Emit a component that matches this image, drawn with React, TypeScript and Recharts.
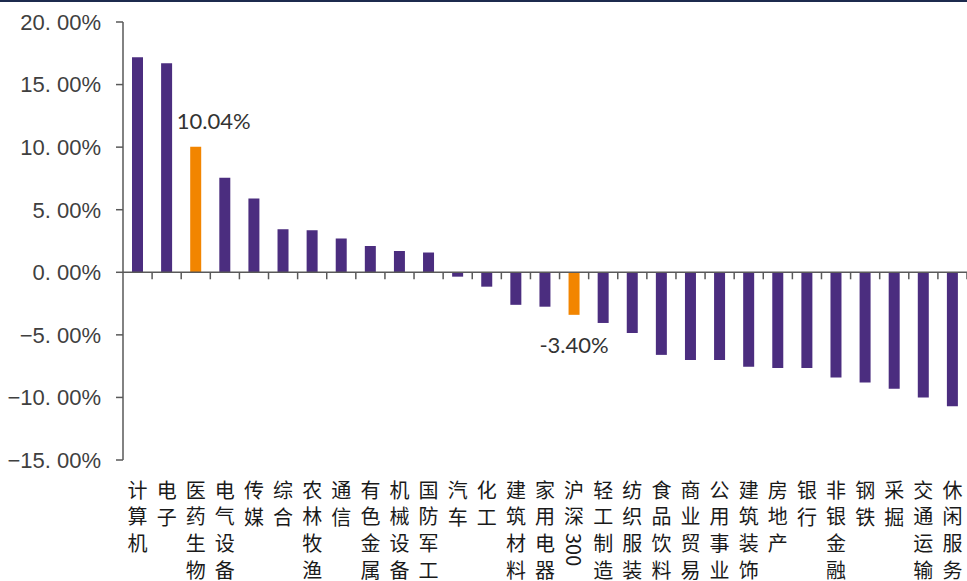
import React from 'react';
import { BarChart, Bar, XAxis, YAxis, Cell, ReferenceLine, LabelList } from 'recharts';

// 申万一级行业区间涨跌幅（%），按涨跌幅排序
const industries: string[] = [
  '计算机', '电子', '医药生物', '电气设备', '传媒', '综合', '农林牧渔', '通信',
  '有色金属', '机械设备', '国防军工', '汽车', '化工', '建筑材料', '家用电器', '沪深300',
  '轻工制造', '纺织服装', '食品饮料', '商业贸易', '公用事业', '建筑装饰', '房地产', '银行',
  '非银金融', '钢铁', '采掘', '交通运输', '休闲服务',
];

const returns: number[] = [
  17.18, 16.7, 10.04, 7.55, 5.9, 3.44, 3.36, 2.7,
  2.1, 1.7, 1.58, -0.35, -1.15, -2.6, -2.75, -3.4,
  -4.05, -4.85, -6.6, -7.0, -7.0, -7.55, -7.65, -7.65,
  -8.4, -8.8, -9.3, -10.0, -10.7,
];

// 需要突出显示并标注数值的类别
const highlighted: string[] = ['医药生物', '沪深300'];

const yTicks: number[] = [-15, -10, -5, 0, 5, 10, 15, 20];

const data = industries.map((name, i) => ({ name, value: returns[i] }));

const PURPLE = '#4b2d7f';
const ORANGE = '#f28500';
const AXIS = '#595959';

const YTick = (props: any) => {
  const { x, y, payload } = props;
  const v: number = payload.value;
  const s = Math.abs(v).toFixed(2);
  const [intPart, decPart] = s.split('.');
  const sign = v < 0 ? '\u2212' : '';
  return (
    <text
      x={x}
      y={y}
      dy="0.36em"
      textAnchor="end"
      fill="#404040"
      fontFamily="'Liberation Sans', sans-serif"
      fontSize={22}
    >
      {sign + intPart + '.'}
      <tspan dx={6}>{decPart + '%'}</tspan>
    </text>
  );
};

// 竖排类别名称：汉字之间留字距，末字与数字部分不加字距
const XTick = (props: any) => {
  const { x, y, payload } = props;
  const name: string = payload.value;
  const m = name.match(/^(\D+)(\d+)$/);
  const head = m ? m[1] : name.slice(0, -1);
  const tail = m ? m[2] : name.slice(-1);
  return (
    <text
      x={x}
      y={y + 20}
      fill="#1a1a1a"
      fontFamily="'Noto Sans CJK SC', sans-serif"
      fontSize={20}
      style={{ writingMode: 'vertical-rl' }}
    >
      <tspan style={{ letterSpacing: 6.5 }}>{head}</tspan>
      <tspan style={{ letterSpacing: 0 }}>{tail}</tspan>
    </text>
  );
};

// 零轴及类别分隔刻度
const ZeroAxis = (props: any) => {
  const { x1, y1, x2, y2 } = props;
  const n = industries.length;
  const step = (x2 - x1) / n;
  const ticks = [];
  for (let i = 1; i <= n; i++) {
    const tx = x1 + i * step;
    ticks.push(<line key={i} x1={tx} y1={y1} x2={tx} y2={y1 + 7} stroke={AXIS} strokeWidth={1.5} />);
  }
  return (
    <g>
      <line x1={x1} y1={y1} x2={x2} y2={y2} stroke={AXIS} strokeWidth={1.5} />
      {ticks}
    </g>
  );
};

const ValueLabel = (props: any) => {
  const { x, y, width, height, value, index } = props;
  if (!highlighted.includes(industries[index])) return null;
  const top = Math.min(y, y + height);
  const bottom = Math.max(y, y + height);
  const cx = x + width / 2;
  const text = `${Number(value).toFixed(2)}%`;
  if (value >= 0) {
    return (
      <text x={cx + 18} y={top - 26} dy="0.36em" textAnchor="middle" fill="#333"
        fontFamily="Lato, sans-serif" fontSize={22}>
        {text}
      </text>
    );
  }
  return (
    <text x={cx} y={bottom + 30} dy="0.36em" textAnchor="middle" fill="#333"
      fontFamily="Lato, sans-serif" fontSize={22}>
      {text}
    </text>
  );
};

export default function App() {
  return (
    <div style={{ position: 'absolute', left: 0, top: 0, width: 967, height: 581, background: '#fff' }}>
      <div style={{ position: 'absolute', left: 0, top: 0, width: 967, height: 2, background: '#1c2a4e' }} />
      <BarChart
        width={967}
        height={581}
        data={data}
        margin={{ top: 22, right: 0, bottom: 0, left: 0 }}
        barSize={11}
      >
        <XAxis
          dataKey="name"
          interval={0}
          height={121}
          axisLine={false}
          tickLine={false}
          tickSize={0}
          tickMargin={0}
          tick={<XTick />}
        />
        <YAxis
          width={123}
          domain={[-15, 20]}
          ticks={yTicks}
          interval={0}
          axisLine={{ stroke: AXIS, strokeWidth: 1.5 }}
          tickLine={{ stroke: AXIS, strokeWidth: 1.5 }}
          tickSize={7}
          tickMargin={15}
          tick={<YTick />}
        />
        <Bar dataKey="value" isAnimationActive={false}>
          {data.map((d) => (
            <Cell key={d.name} fill={highlighted.includes(d.name) ? ORANGE : PURPLE} />
          ))}
          <LabelList dataKey="value" content={<ValueLabel />} />
        </Bar>
        <ReferenceLine y={0} shape={<ZeroAxis />} />
      </BarChart>
    </div>
  );
}
